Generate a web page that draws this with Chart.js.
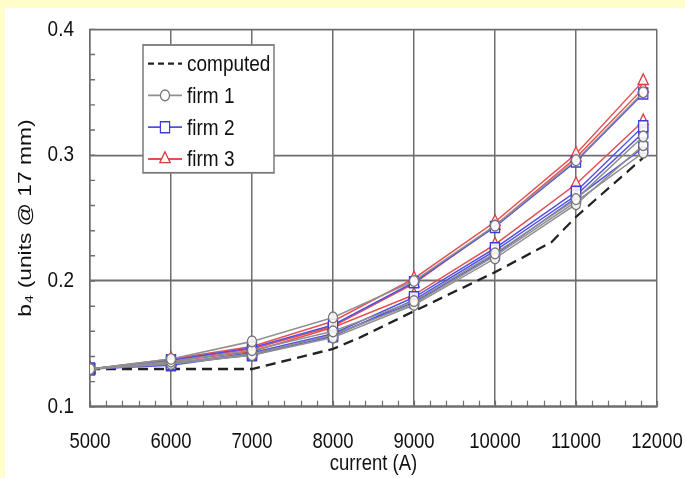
<!DOCTYPE html>
<html>
<head>
<meta charset="utf-8">
<script src="https://cdn.jsdelivr.net/npm/chart.js@4/dist/chart.umd.min.js"></script>
<style>
  html, body { margin: 0; padding: 0; background: #ffffff; overflow: hidden; }
  canvas { display: block; }
</style>
</head>
<body>
<canvas id="b4Chart" width="685" height="478"></canvas>
<script>
// Current steps where the harmonic b4 was measured (A)
const currents = [5000, 6000, 7000, 8000, 9000, 10000, 11000, 11830];

// Computed curve (no markers)
const computedCurrents = [5000, 6000, 7000, 8000, 8330, 9000, 10000, 10700, 11000, 11830];
const computedB4 = [0.130, 0.130, 0.130, 0.146, 0.155, 0.176, 0.207, 0.231, 0.251, 0.298];

// Measured magnets, one row per magnet
const firm1Runs = [
    [0.130, 0.138, 0.152, 0.171, 0.200, 0.244, 0.296, 0.350],
    [0.130, 0.136, 0.145, 0.160, 0.184, 0.222, 0.265, 0.315],
    [0.130, 0.134, 0.141, 0.155, 0.181, 0.218, 0.261, 0.308],
    [0.130, 0.135, 0.142, 0.157, 0.182, 0.220, 0.263, 0.302]
];
const firm2Runs = [
    [0.130, 0.137, 0.147, 0.165, 0.199, 0.243, 0.295, 0.349],
    [0.130, 0.134, 0.143, 0.158, 0.187, 0.226, 0.271, 0.323],
    [0.130, 0.133, 0.142, 0.156, 0.185, 0.224, 0.268, 0.318],
    [0.130, 0.135, 0.141, 0.157, 0.183, 0.221, 0.266, 0.306]
];
const firm3Runs = [
    [0.130, 0.138, 0.148, 0.168, 0.202, 0.247, 0.301, 0.359],
    [0.130, 0.137, 0.146, 0.164, 0.198, 0.244, 0.298, 0.353],
    [0.130, 0.136, 0.144, 0.163, 0.189, 0.229, 0.277, 0.327]
];

const FONT = '"Liberation Sans", Arial, sans-serif';
const STRETCH_Y = 1.2;   // everything is drawn squat, then stretched tall

const firmStyles = {
    'firm 1': { color: '#909090', marker: '#767676', pointStyle: 'circle', radius: 4.5 },
    'firm 2': { color: '#5050e2', marker: '#3c3cd8', pointStyle: 'rect', radius: 6.5 },
    'firm 3': { color: '#e45050', marker: '#d83c3c', pointStyle: 'triangle', radius: 6 }
};

function toPoints(xs, ys) {
    return xs.map((x, i) => ({ x: x, y: ys[i] }));
}

function firmDatasets(name, runs) {
    const s = firmStyles[name];
    return runs.map(run => ({
        label: name,
        data: toPoints(currents, run),
        borderColor: s.color,
        borderWidth: 1.3,
        pointStyle: s.pointStyle,
        pointRadius: s.radius,
        pointBorderColor: s.marker,
        pointBackgroundColor: 'rgba(255,255,255,0.85)',
        pointBorderWidth: 1.2,
        fill: false,
        tension: 0
    }));
}

const datasets = [
    ...firmDatasets('firm 1', firm1Runs),
    ...firmDatasets('firm 2', firm2Runs),
    ...firmDatasets('firm 3', firm3Runs),
    {
        label: 'computed',
        data: toPoints(computedCurrents, computedB4),
        borderColor: '#222',
        borderWidth: 2,
        borderDash: [10, 6],
        pointRadius: 0,
        fill: false,
        tension: 0
    }
];

// yellow frame with white panel, then stretch the drawing vertically
const backdrop = {
    id: 'backdrop',
    beforeDraw(chart) {
        const ctx = chart.ctx;
        ctx.fillStyle = '#ffffcc';
        ctx.fillRect(0, 0, chart.width, chart.height);
        ctx.fillStyle = '#ffffff';
        ctx.fillRect(5, 8, chart.width - 5, chart.height - 8);
        ctx.save();
        ctx.scale(1, STRETCH_Y);
    },
    afterDraw(chart) {
        chart.ctx.restore();
    }
};

// small inward ticks on the left and bottom axes
const minorTicks = {
    id: 'minorTicks',
    beforeDatasetsDraw(chart) {
        const { ctx, chartArea, scales } = chart;
        ctx.save();
        ctx.strokeStyle = '#6e6e6e';
        ctx.lineWidth = 1.2;
        ctx.beginPath();
        for (let v = 0.1; v < 0.4001; v += 0.02) {
            const y = scales.y.getPixelForValue(v);
            ctx.moveTo(chartArea.left, y);
            ctx.lineTo(chartArea.left + 5, y);
        }
        for (let v = 5000; v <= 12000; v += 200) {
            const x = Math.round(scales.x.getPixelForValue(v)) + 0.5;
            ctx.moveTo(x, chartArea.bottom);
            ctx.lineTo(x, chartArea.bottom - 5);
        }
        ctx.stroke();
        ctx.restore();
    }
};

// boxed legend inside the plot, top-left
const boxLegend = {
    id: 'boxLegend',
    afterDatasetsDraw(chart) {
        const ctx = chart.ctx;
        const box = { left: 143, top: 37.5, right: 274, bottom: 144 };
        ctx.save();
        ctx.fillStyle = '#ffffff';
        ctx.fillRect(box.left, box.top, box.right - box.left, box.bottom - box.top);
        ctx.strokeStyle = '#7a7a7a';
        ctx.lineWidth = 1.5;
        ctx.strokeRect(box.left, box.top, box.right - box.left, box.bottom - box.top);

        const rows = ['computed', 'firm 1', 'firm 2', 'firm 3'];
        rows.forEach((name, i) => {
            const y = 53 + i * 26.5;
            const x0 = 148, x1 = 182;
            ctx.beginPath();
            if (name === 'computed') {
                ctx.strokeStyle = '#222';
                ctx.lineWidth = 2;
                ctx.setLineDash([6, 4]);
            } else {
                ctx.strokeStyle = firmStyles[name].color;
                ctx.lineWidth = 1.5;
                ctx.setLineDash([]);
            }
            ctx.moveTo(x0, y);
            ctx.lineTo(x1, y);
            ctx.stroke();
            ctx.setLineDash([]);
            if (name !== 'computed') {
                const s = firmStyles[name];
                ctx.strokeStyle = s.marker;
                ctx.fillStyle = '#ffffff';
                ctx.lineWidth = 1.2;
                Chart.helpers.drawPoint(ctx, { pointStyle: s.pointStyle, radius: s.radius, rotation: 0, borderWidth: 1.2 }, (x0 + x1) / 2, y);
            }
            ctx.fillStyle = '#111';
            ctx.font = '19px ' + FONT;
            ctx.textBaseline = 'middle';
            ctx.fillText(name, 187, y + 1);
        });
        ctx.restore();
    }
};

new Chart(document.getElementById('b4Chart'), {
    type: 'line',
    data: { datasets: datasets },
    options: {
        responsive: false,
        animation: false,
        // bottom padding leaves the squat layout 398 px tall before stretching
        layout: { padding: { left: 0, right: 28, top: 24.5, bottom: 80 } },
        plugins: {
            legend: { display: false },
            tooltip: { enabled: false }
        },
        scales: {
            x: {
                type: 'linear',
                min: 5000,
                max: 12000,
                ticks: {
                    stepSize: 1000,
                    padding: 18,
                    maxRotation: 0,
                    color: '#111',
                    font: { family: FONT, size: 18.5 },
                    callback: v => String(v)
                },
                grid: { color: '#6e6e6e', lineWidth: 1.5, drawTicks: false },
                border: { color: '#6e6e6e', width: 1.5 },
                title: {
                    display: true,
                    text: 'current (A)',
                    color: '#111',
                    font: { family: FONT, size: 18.5 },
                    padding: { top: 0, bottom: 0 }
                },
                afterFit: s => {
                    s.height = 59;
                    // the end labels may hang past the plot edges
                    s.paddingLeft = 0;
                    s.paddingRight = 0;
                }
            },
            y: {
                min: 0.1,
                max: 0.4,
                ticks: {
                    stepSize: 0.1,
                    padding: 16,
                    color: '#111',
                    font: { family: FONT, size: 19 },
                    callback: v => v.toFixed(1)
                },
                grid: { color: '#6e6e6e', lineWidth: 1.5, drawTicks: false },
                border: { color: '#6e6e6e', width: 1.5 },
                title: {
                    display: true,
                    text: 'b₄ (units @ 17 mm)',
                    color: '#111',
                    font: { family: FONT, size: 19 },
                    padding: { top: 14, bottom: 0 }
                },
                afterFit: s => {
                    s.width = 90;
                    s.paddingTop = 0;
                    s.paddingBottom = 0;
                }
            }
        }
    },
    plugins: [backdrop, minorTicks, boxLegend]
});
</script>
</body>
</html>
